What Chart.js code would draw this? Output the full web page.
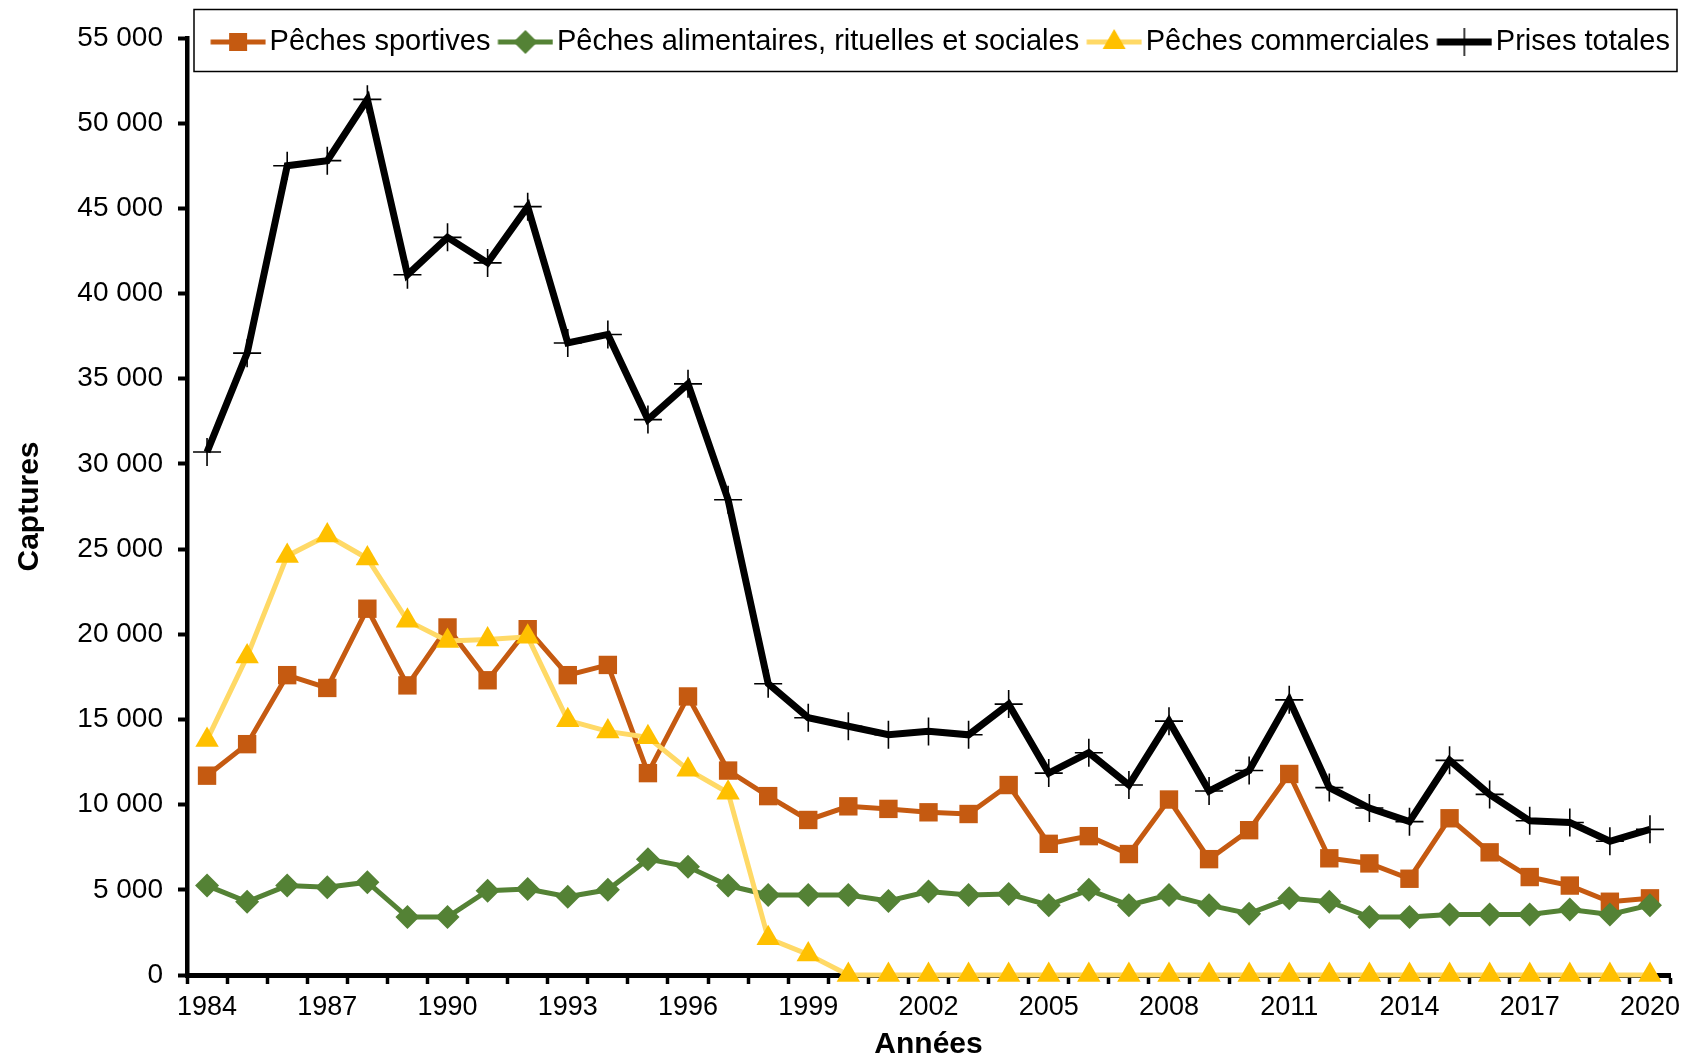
<!DOCTYPE html>
<html lang="fr">
<head>
<meta charset="utf-8">
<title>Captures par type de pêche</title>
<script src="https://cdn.jsdelivr.net/npm/chart.js@4.4.1/dist/chart.umd.min.js"></script>
<style>
  html, body { margin: 0; padding: 0; background: #fff; }
  #wrap { width: 1694px; height: 1062px; position: relative; }
</style>
</head>
<body>
<div id="wrap"><canvas id="lineChart"></canvas></div>
<script>
// categories
const years = ['1984', '1985', '1986', '1987', '1988', '1989', '1990', '1991', '1992', '1993',
  '1994', '1995', '1996', '1997', '1998', '1999', '2000', '2001', '2002', '2003',
  '2004', '2005', '2006', '2007', '2008', '2009', '2010', '2011', '2012', '2013',
  '2014', '2015', '2016', '2017', '2018', '2019', '2020'];

// series
const sportives = [11700, 13550, 17600, 16850, 21500, 17000, 20400, 17300, 20300, 17600,
  18200, 11850, 16350, 12000, 10500, 9100, 9900, 9750, 9550, 9450,
  11150, 7700, 8150, 7100, 10300, 6800, 8500, 11800, 6850, 6550,
  5650, 9200, 7200, 5750, 5250, 4300, 4500];

const alimentaires = [5250, 4300, 5250, 5150, 5450, 3400, 3400, 4950, 5050, 4600,
  5000, 6800, 6350, 5250, 4700, 4700, 4700, 4350, 4900, 4700,
  4750, 4100, 5000, 4100, 4700, 4100, 3600, 4500, 4300, 3400,
  3400, 3550, 3550, 3550, 3850, 3550, 4100];

const commerciales = [13800, 18700, 24600, 25800, 24450, 20800, 19600, 19700, 19850, 14950,
  14300, 13950, 12050, 10700, 2150, 1200, 0, 0, 0, 0,
  0, 0, 0, 0, 0, 0, 0, 0, 0, 0,
  0, 0, 0, 0, 0, 0, 0];

const totales = [30700, 36500, 47500, 47800, 51400, 41100, 43300, 41800, 45100, 37100,
  37600, 32600, 34700, 27900, 17100, 15100, 14600, 14100, 14300, 14100,
  15900, 11850, 13050, 11150, 14900, 10800, 12000, 16150, 11000, 9800,
  9000, 12600, 10600, 9050, 8950, 7850, 8550];

const seriesNames = ['Pêches sportives', 'Pêches alimentaires, rituelles et sociales', 'Pêches commerciales', 'Prises totales'];

const FONT = "'Liberation Sans', Arial, sans-serif";

function fmt(v) {
  return String(v).replace(/\B(?=(\d{3})+(?!\d))/g, ' ');
}

// small line+marker pictures for the legend (drawn a bit right of centre
// so the gap to the text stays small)
function legendIcon(lineColor, markColor, shape, lineWidth) {
  const c = document.createElement('canvas');
  c.width = 60; c.height = 30;
  const ctx = c.getContext('2d');
  const x0 = 4.5, x1 = 59.5;
  const cx = (x0 + x1) / 2, cy = 15;
  ctx.strokeStyle = lineColor;
  ctx.lineWidth = lineWidth;
  ctx.beginPath(); ctx.moveTo(x0, cy); ctx.lineTo(x1, cy); ctx.stroke();
  ctx.fillStyle = markColor;
  ctx.beginPath();
  if (shape === 'rect') {
    ctx.rect(cx - 9, cy - 9, 18, 18); ctx.fill();
  } else if (shape === 'diamond') {
    ctx.moveTo(cx - 12, cy); ctx.lineTo(cx, cy - 12); ctx.lineTo(cx + 12, cy); ctx.lineTo(cx, cy + 12);
    ctx.closePath(); ctx.fill();
  } else if (shape === 'triangle') {
    ctx.moveTo(cx, cy - 13); ctx.lineTo(cx + 11.5, cy + 7); ctx.lineTo(cx - 11.5, cy + 7);
    ctx.closePath(); ctx.fill();
  } else {
    ctx.strokeStyle = markColor; ctx.lineWidth = 1.5;
    ctx.moveTo(cx - 14, cy); ctx.lineTo(cx + 14, cy);
    ctx.moveTo(cx, cy - 14); ctx.lineTo(cx, cy + 14);
    ctx.stroke();
  }
  return c;
}

const icons = [
  legendIcon('#C55A11', '#C55A11', 'rect', 5),
  legendIcon('#548235', '#548235', 'diamond', 5),
  legendIcon('#FFD966', '#FFC000', 'triangle', 5),
  legendIcon('#000000', '#000000', 'cross', 7)
];

// legend laid out in one row inside the plot, moved up, with a box round it
const legendFrame = {
  id: 'legendFrame',
  beforeLayout(chart) {
    const lg = chart.legend;
    if (!lg || lg._patched) return;
    lg._patched = true;
    lg.isHorizontal = () => true;
    const upd = lg.update;
    lg.update = function (w, h, m) { return upd.call(this, w + 100, h, m); };
  },
  afterLayout(chart) {
    const lg = chart.legend;
    const ca = chart.chartArea;
    lg.left = ca.left + 15;
    lg.right = ca.right + 15;
    lg.width = ca.right - ca.left;
    lg.top = 13.5;
    lg.bottom = lg.top + lg.height;
  },
  afterDraw(chart) {
    const ca = chart.chartArea;
    const ctx = chart.ctx;
    ctx.save();
    ctx.strokeStyle = '#000';
    ctx.lineWidth = 1.5;
    ctx.strokeRect(ca.left + 7, 9.5, ca.right - ca.left, 62);
    ctx.restore();
  }
};

new Chart(document.getElementById('lineChart').getContext('2d'), {
  type: 'line',
  data: {
    labels: years,
    datasets: [
      {
        label: seriesNames[0], data: sportives, order: 4,
        borderColor: '#C55A11', backgroundColor: '#C55A11', borderWidth: 5,
        pointStyle: 'rect', pointRadius: 13, pointBorderWidth: 0, clip: false
      },
      {
        label: seriesNames[1], data: alimentaires, order: 3,
        borderColor: '#548235', backgroundColor: '#548235', borderWidth: 5,
        pointStyle: 'rectRot', pointRadius: 12, pointBorderWidth: 0, clip: false
      },
      {
        label: seriesNames[2], data: commerciales, order: 2,
        borderColor: '#FFD966', backgroundColor: '#FFC000', borderWidth: 5,
        pointStyle: 'triangle', pointRadius: 13.5, pointBorderWidth: 0, clip: false
      },
      {
        label: seriesNames[3], data: totales, order: 1,
        borderColor: '#000000', backgroundColor: '#000000', borderWidth: 7,
        pointStyle: 'cross', pointRadius: 14, pointBorderWidth: 1.6, pointBorderColor: '#000', clip: false
      }
    ]
  },
  options: {
    responsive: true,
    maintainAspectRatio: false,
    animation: false,
    events: [],
    layout: { padding: { top: 38, right: 24, bottom: 0, left: 0 } },
    elements: { line: { tension: 0 } },
    plugins: {
      tooltip: { enabled: false },
      legend: {
        position: 'chartArea',
        align: 'center',
        labels: {
          usePointStyle: true,
          pointStyleWidth: 38,
          padding: 14,
          color: '#000',
          font: { family: FONT, size: 29 },
          generateLabels: (chart) => chart.data.datasets.map((ds, i) => ({
            text: ds.label,
            pointStyle: icons[i],
            datasetIndex: i,
            fillStyle: ds.borderColor,
            strokeStyle: ds.borderColor,
            lineWidth: 0,
            hidden: false,
            fontColor: '#000'
          }))
        }
      }
    },
    scales: {
      x: {
        offset: true,
        ticks: {
          autoSkip: false, maxRotation: 0, minRotation: 0,
          color: '#000', padding: 7,
          font: { family: FONT, size: 27 },
          callback: function (v, i) { return i % 3 === 0 ? this.getLabelForValue(v) : ''; }
        },
        grid: { offset: true, drawOnChartArea: false, drawTicks: true, tickLength: 9, tickWidth: 3.5, tickColor: '#000' },
        border: { display: true, color: '#000', width: 5 },
        title: {
          display: true, text: 'Années', color: '#000',
          font: { family: FONT, size: 30, weight: 'bold', lineHeight: 1 },
          padding: { top: 0, bottom: 2 }
        },
        afterFit: (s) => { s.height = 87; }
      },
      y: {
        min: 0, max: 55000,
        ticks: {
          stepSize: 5000, color: '#000', padding: 15,
          font: { family: FONT, size: 28 },
          callback: (v) => fmt(v)
        },
        grid: { drawOnChartArea: false, drawTicks: true, tickLength: 9, tickWidth: 4, tickColor: '#000' },
        border: { display: true, color: '#000', width: 4.5 },
        title: {
          display: true, text: 'Captures', color: '#000',
          font: { family: FONT, size: 30, weight: 'bold', lineHeight: 1.2 },
          padding: { top: 12, bottom: 0 }
        },
        afterFit: (s) => { s.width = 187; }
      }
    }
  },
  plugins: [legendFrame]
});
</script>
</body>
</html>
